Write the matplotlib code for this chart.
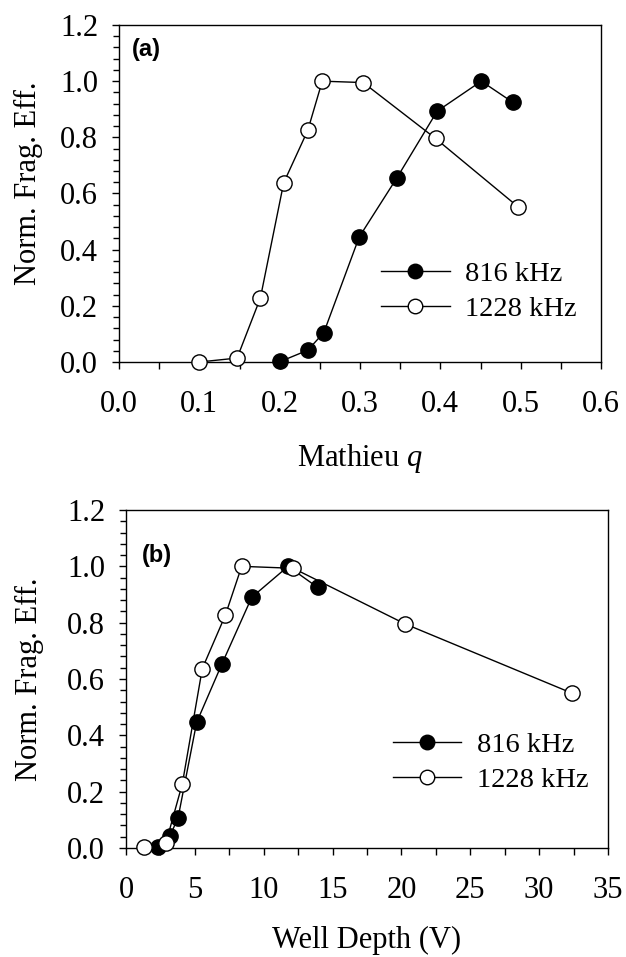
import numpy as np
import matplotlib
matplotlib.use("Agg")
import matplotlib.pyplot as plt
from matplotlib.ticker import MultipleLocator

# panel (a): fragmentation efficiency vs Mathieu q
q_816 = [0.201, 0.235, 0.255, 0.299, 0.346, 0.396, 0.451, 0.490]
eff_816_a = [0.002, 0.042, 0.105, 0.445, 0.656, 0.893, 1.000, 0.925]
q_1228 = [0.100, 0.147, 0.176, 0.205, 0.235, 0.253, 0.304, 0.394, 0.497]
eff_1228_a = [0.000, 0.014, 0.228, 0.638, 0.825, 1.000, 0.995, 0.796, 0.552]

# panel (b): same data vs well depth
wd_816 = [2.30, 3.20, 3.78, 5.13, 6.97, 9.13, 11.77, 13.92]
eff_816_b = [0.002, 0.044, 0.107, 0.446, 0.654, 0.890, 1.000, 0.925]
wd_1228 = [1.33, 2.90, 4.09, 5.54, 7.21, 8.40, 12.15, 20.29, 32.37]
eff_1228_b = [0.002, 0.018, 0.228, 0.637, 0.826, 1.000, 0.993, 0.795, 0.550]

labels = ["816 kHz", "1228 kHz"]

W, H = 626, 957
FS = 22
plt.rcParams["font.family"] = "Liberation Serif"
plt.rcParams["mathtext.fontset"] = "custom"
plt.rcParams["mathtext.it"] = "Liberation Serif:italic"

fig = plt.figure(figsize=(W / 100, H / 100), dpi=100)


def px_axes(left, top, right, bottom):
    return fig.add_axes([left / W, 1 - bottom / H, (right - left) / W, (bottom - top) / H])


def style(ax, xmax, xmajor, xminor):
    ax.set_ylim(0, 1.2)
    ax.set_xlim(0, xmax)
    ax.yaxis.set_major_locator(MultipleLocator(0.2))
    ax.yaxis.set_minor_locator(MultipleLocator(0.04))
    ax.xaxis.set_major_locator(MultipleLocator(xmajor))
    ax.xaxis.set_minor_locator(MultipleLocator(xminor))
    ax.tick_params(which="both", direction="out", labelsize=FS, width=1)
    ax.tick_params(axis="y", which="both", pad=10)
    ax.tick_params(axis="x", which="both", pad=15)
    ax.tick_params(which="major", length=5)
    ax.tick_params(which="minor", length=4)
    ax.tick_params(axis="x", which="minor", length=5)
    for s in ax.spines.values():
        s.set_linewidth(1)
    ax.yaxis.set_major_formatter(plt.FuncFormatter(lambda v, p: f"{v:.1f}"))


def series(ax, x1, y1, x2, y2):
    ax.plot(x1, y1, "-o", color="black", lw=1, ms=11, mfc="black", mec="black",
            mew=1, label=labels[0], clip_on=False, zorder=3)
    ax.plot(x2, y2, "-o", color="black", lw=1, ms=11, mfc="white", mec="black",
            mew=1, label=labels[1], clip_on=False, zorder=3)


def legend(ax, x, y):
    ax.legend(loc="center left", bbox_to_anchor=(x, y), frameon=False,
              fontsize=20.5, handlelength=2.4, handletextpad=0.55, labelspacing=0.3,
              borderpad=0, borderaxespad=0, markerscale=0.95)


# (a)
ax1 = px_axes(119, 25, 601, 362)
series(ax1, q_816, eff_816_a, q_1228, eff_1228_a)
style(ax1, 0.6, 0.1, 0.05)
ax1.xaxis.set_major_formatter(plt.FuncFormatter(lambda v, p: f"{v:.1f}"))
ax1.set_xlabel("Mathieu $q$", fontsize=FS, labelpad=17)
ax1.set_ylabel("Norm. Frag. Eff.", fontsize=FS)
ax1.yaxis.set_label_coords(-0.157, 0.53)
ax1.text(0.027, 0.96, "(a)", transform=ax1.transAxes, fontsize=17,
         fontweight="bold", family="Liberation Sans", va="top", ha="left")
legend(ax1, 0.544, 0.209)

# (b)
ax2 = px_axes(126, 510, 608, 848)
series(ax2, wd_816, eff_816_b, wd_1228, eff_1228_b)
style(ax2, 35, 5, 2.5)
ax2.set_xlabel("Well Depth (V)", fontsize=FS, labelpad=15)
ax2.set_ylabel("Norm. Frag. Eff.", fontsize=FS)
ax2.yaxis.set_label_coords(-0.17, 0.5)
ax2.text(0.033, 0.9, "(b)", transform=ax2.transAxes, fontsize=17,
         fontweight="bold", family="Liberation Sans", va="top", ha="left")
legend(ax2, 0.554, 0.253)

fig.savefig("out.png", dpi=100)
